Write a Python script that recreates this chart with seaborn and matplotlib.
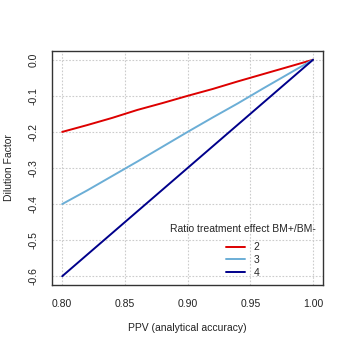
import matplotlib
matplotlib.use("Agg")
import matplotlib.pyplot as plt
import seaborn as sns
import pandas as pd
from matplotlib.lines import Line2D

# Valores
ppv = [0.80, 0.82, 0.84, 0.86, 0.88, 0.90, 0.92, 0.94, 0.96, 0.98, 1.00]
fator_2 = [-0.200, -0.181, -0.161, -0.139, -0.120, -0.100, -0.081, -0.060, -0.040, -0.020, 0.0]
fator_3 = [-0.400, -0.362, -0.322, -0.282, -0.241, -0.200, -0.160, -0.121, -0.080, -0.040, 0.0]
fator_4 = [-0.600, -0.540, -0.480, -0.420, -0.360, -0.300, -0.240, -0.180, -0.120, -0.060, 0.0]
razoes = ["2", "3", "4"]
cores = ["#DD0000", "#6BAED6", "#00008B"]

x_ticks = [0.80, 0.85, 0.90, 0.95, 1.00]
y_ticks = [0.0, -0.1, -0.2, -0.3, -0.4, -0.5, -0.6]

df = pd.DataFrame({
    "PPV": ppv * 3,
    "Fator": fator_2 + fator_3 + fator_4,
    "Razao": [r for r in razoes for _ in ppv],
})

sns.set_theme(style="white")
plt.rcParams["font.family"] = ["Liberation Sans", "DejaVu Sans"]

fig = plt.figure(figsize=(3.5, 3.5), dpi=100)
ax = fig.add_axes([0.149, 0.186, 0.774, 0.668])

# Grade pontilhada
for xt in x_ticks:
    ax.axvline(xt, color="#CCCCCC", linestyle=(0, (1.5, 1.5)), linewidth=0.8, zorder=0)
for yt in y_ticks:
    ax.axhline(yt, color="#CCCCCC", linestyle=(0, (1.5, 1.5)), linewidth=0.8, zorder=0)

sns.lineplot(data=df, x="PPV", y="Fator", hue="Razao", palette=cores,
             linewidth=1.4, ax=ax, legend=False)

ax.set_xlim(0.792, 1.008)
ax.set_ylim(-0.624, 0.024)
ax.set_xticks(x_ticks)
ax.set_xticklabels([f"{v:.2f}" for v in x_ticks], fontsize=7.5, color="#222222")
ax.set_yticks(y_ticks)
ax.set_yticklabels([f"{v:.1f}" if v != 0 else "0.0" for v in y_ticks],
                   fontsize=7.5, rotation=90, va="center", color="#222222")
ax.tick_params(direction="out", length=4, width=0.8, color="#444444", pad=6)
for s in ax.spines.values():
    s.set_color("#333333")
    s.set_linewidth(1.0)

ax.set_xlabel("PPV (analytical accuracy)", fontsize=7.5, labelpad=10, color="#222222")
ax.set_ylabel("Dilution Factor", fontsize=7.5, labelpad=10, color="#222222")

# Legenda sem moldura, no canto inferior direito
handles = [Line2D([0], [0], color=c, linewidth=1.4) for c in cores]
leg = ax.legend(handles, razoes, title="Ratio treatment effect BM+/BM-",
                loc="lower right", bbox_to_anchor=(1.0, 0.0), frameon=False,
                fontsize=7.5, title_fontsize=7.5, handlelength=1.8,
                labelspacing=0.25, borderaxespad=0.3)
leg._legend_box.align = "center"
leg._legend_box.sep = 6

fig.savefig("out.png", dpi=100)
